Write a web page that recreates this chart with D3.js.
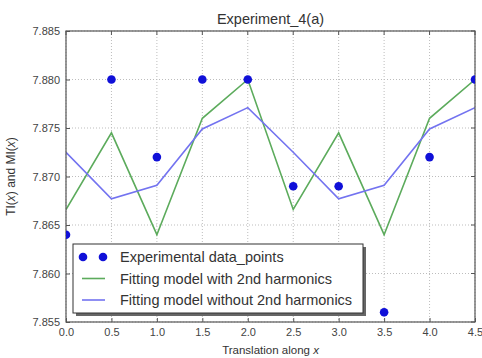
<!DOCTYPE html>
<html>
<head>
<meta charset="utf-8">
<script src="https://cdn.jsdelivr.net/npm/d3@7"></script>
<style>
  body { margin: 0; background: #fff; }
  svg { display: block; font-family: "Liberation Sans", Arial, sans-serif; }
</style>
</head>
<body>
<svg id="chart" width="482" height="358"></svg>
<script>
// Translation positions along x
const positions = [0.0, 0.5, 1.0, 1.5, 2.0, 2.5, 3.0, 3.5, 4.0, 4.5];
// Measured data points
const experimental = [7.864, 7.880, 7.872, 7.880, 7.880, 7.869, 7.869, 7.856, 7.872, 7.880];
// Fit including the 2nd harmonic term
const withHarmonics = [7.8666, 7.8745, 7.8640, 7.8760, 7.8800, 7.8666, 7.8745, 7.8640, 7.8760, 7.8800];
// Fit without the 2nd harmonic term
const withoutHarmonics = [7.8725, 7.8677, 7.8691, 7.8749, 7.8771, 7.8725, 7.8677, 7.8691, 7.8749, 7.8771];
const xTicks = [0.0, 0.5, 1.0, 1.5, 2.0, 2.5, 3.0, 3.5, 4.0, 4.5];
const yTicks = [7.855, 7.860, 7.865, 7.870, 7.875, 7.880, 7.885];

const svg = d3.select("#chart");
const margin = { left: 66, right: 7, top: 31, bottom: 36 };
const W = 482, H = 358;
const x = d3.scaleLinear().domain([0, 4.5]).range([margin.left, W - margin.right]);
const y = d3.scaleLinear().domain([7.855, 7.885]).range([H - margin.bottom, margin.top]);

const plot = svg.append("g");
const clipId = "plotclip";
svg.append("defs").append("clipPath").attr("id", clipId)
  .append("rect").attr("x", x(0)).attr("y", y(7.885))
  .attr("width", x(4.5) - x(0)).attr("height", y(7.855) - y(7.885));

// grid
plot.append("g").selectAll("line").data(xTicks).join("line")
  .attr("x1", d => x(d)).attr("x2", d => x(d))
  .attr("y1", y(7.885)).attr("y2", y(7.855))
  .attr("stroke", "#bdbdbd").attr("stroke-width", 1).attr("stroke-dasharray", "1,2");
plot.append("g").selectAll("line").data(yTicks).join("line")
  .attr("y1", d => y(d)).attr("y2", d => y(d))
  .attr("x1", x(0)).attr("x2", x(4.5))
  .attr("stroke", "#bdbdbd").attr("stroke-width", 1).attr("stroke-dasharray", "1,2");

// axes with inward ticks
const xAxis = d3.axisBottom(x).tickValues(xTicks).tickFormat(d3.format(".1f")).tickSize(-4).tickPadding(6);
const yAxis = d3.axisLeft(y).tickValues(yTicks).tickFormat(d3.format(".3f")).tickSize(-4).tickPadding(6);
const gx = svg.append("g").attr("transform", `translate(0,${y(7.855)})`).call(xAxis);
const gy = svg.append("g").attr("transform", `translate(${x(0)},0)`).call(yAxis);
[gx, gy].forEach(g => {
  g.select(".domain").remove();
  g.selectAll("line").attr("stroke", "#555");
  g.selectAll("text").attr("fill", "#444").style("font-size", "11px");
});
svg.append("g").selectAll("line").data(xTicks).join("line")
  .attr("x1", d => x(d)).attr("x2", d => x(d))
  .attr("y1", y(7.885)).attr("y2", y(7.885) + 4).attr("stroke", "#555");
svg.append("g").selectAll("line").data(yTicks).join("line")
  .attr("x1", x(4.5)).attr("x2", x(4.5) - 4)
  .attr("y1", d => y(d)).attr("y2", d => y(d)).attr("stroke", "#555");

// series lines
const line = (vals) => d3.line().x((d, i) => x(positions[i])).y(d => y(d))(vals);
const series = svg.append("g").attr("clip-path", `url(#${clipId})`);
series.append("path").attr("d", line(withHarmonics))
  .attr("fill", "none").attr("stroke", "#5cab5c").attr("stroke-width", 1.6);
series.append("path").attr("d", line(withoutHarmonics))
  .attr("fill", "none").attr("stroke", "#7373f0").attr("stroke-width", 1.6);

// frame
svg.append("rect").attr("x", x(0)).attr("y", y(7.885))
  .attr("width", x(4.5) - x(0)).attr("height", y(7.855) - y(7.885))
  .attr("fill", "none").attr("stroke", "#555").attr("stroke-width", 1.2);

// data points
svg.append("g").attr("clip-path", `url(#${clipId})`).selectAll("circle")
  .data(experimental).join("circle")
  .attr("cx", (d, i) => x(positions[i])).attr("cy", d => y(d))
  .attr("r", 4.3).attr("fill", "#1010d8");

// title and axis labels
svg.append("text").attr("x", (x(0) + x(4.5)) / 2).attr("y", 24)
  .attr("text-anchor", "middle").attr("fill", "#333").style("font-size", "14.5px")
  .text("Experiment_4(a)");

const xl = svg.append("text").attr("x", (x(0) + x(4.5)) / 2).attr("y", 354)
  .attr("text-anchor", "middle").attr("fill", "#333").style("font-size", "11.5px");
xl.append("tspan").text("Translation along ");
xl.append("tspan").attr("font-style", "italic").text("x");

const yl = svg.append("text").attr("transform", `translate(15,${(y(7.855) + y(7.885)) / 2}) rotate(-90)`)
  .attr("text-anchor", "middle").attr("fill", "#333").style("font-size", "12px");
yl.append("tspan").text("TI(");
yl.append("tspan").attr("font-style", "italic").text("x");
yl.append("tspan").text(") and MI(");
yl.append("tspan").attr("font-style", "italic").text("x");
yl.append("tspan").text(")");

// legend
const lg = svg.append("g").attr("transform", "translate(73,244)");
const lw = 290, lh = 69;
lg.append("rect").attr("x", 3).attr("y", 3).attr("width", lw).attr("height", lh).attr("fill", "#666");
lg.append("rect").attr("width", lw).attr("height", lh).attr("fill", "#fff")
  .attr("stroke", "#333").attr("stroke-width", 1);
const entries = [
  { label: "Experimental data_points", type: "dot", color: "#1010d8" },
  { label: "Fitting model with 2nd harmonics", type: "line", color: "#5cab5c" },
  { label: "Fitting model without 2nd harmonics", type: "line", color: "#7373f0" }
];
entries.forEach((e, i) => {
  const cy = 13 + i * 21.5;
  if (e.type === "dot") {
    [10, 30].forEach(cx => lg.append("circle").attr("cx", cx).attr("cy", cy).attr("r", 4.3).attr("fill", e.color));
  } else {
    lg.append("line").attr("x1", 9).attr("x2", 32).attr("y1", cy).attr("y2", cy)
      .attr("stroke", e.color).attr("stroke-width", 1.6);
  }
  lg.append("text").attr("x", 47).attr("y", cy + 5).attr("fill", "#333")
    .style("font-size", "14.5px").text(e.label);
});
</script>
</body>
</html>
